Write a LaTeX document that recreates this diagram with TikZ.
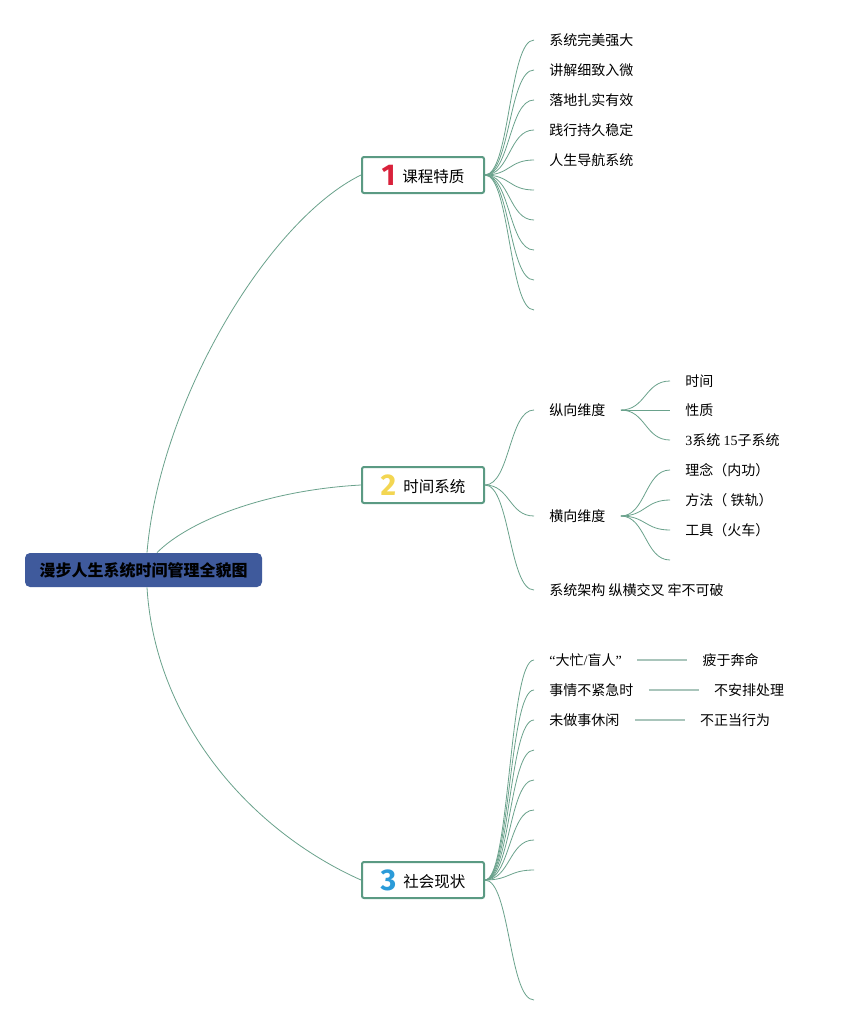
\documentclass[tikz,border=0pt]{standalone}
\usepackage{fontspec}
\setmainfont{Noto Sans CJK SC}
\newfontfamily\numfont{Fira Sans}
\newfontfamily\latinnum{Liberation Serif}
\usetikzlibrary{positioning}

\definecolor{rootblue}{HTML}{3F5A9C}
\definecolor{framegreen}{HTML}{5B9A83}
\definecolor{linegreen}{HTML}{6AA28C}
\definecolor{pairgrey}{HTML}{A9C5BB}
\definecolor{digitred}{HTML}{D9213B}
\definecolor{digityellow}{HTML}{F3D652}
\definecolor{digitblue}{HTML}{2B9BD9}

\newcommand{\topicnum}[2]{\raisebox{-3pt}{\numfont\bfseries\fontsize{30}{30}\selectfont\color{#1}#2}\hspace{7pt}}

\begin{document}
\begin{tikzpicture}[x=1pt, y=-1pt, thick]
        % Define block styles
        \tikzstyle{rootnode} = [rectangle, fill=rootblue, rounded corners=5pt, minimum width=237pt, minimum height=34pt, font=\fontsize{16}{18}\selectfont\bfseries, text centered]
        \tikzstyle{topicnode} = [rectangle, draw=framegreen, line width=2pt, fill=white, rounded corners=2pt, minimum width=122pt, minimum height=36pt, inner ysep=0pt, font=\fontsize{15.5}{18}\selectfont]
        \tikzstyle{leafnode} = [anchor=west, inner xsep=15pt, inner ysep=2pt, font=\fontsize{14}{16}\selectfont]
        \tikzstyle{line} = [draw=linegreen, line width=0.8pt]
        \tikzstyle{pairline} = [draw=pairgrey, line width=1.5pt]
        \tikzstyle{curveto} = [to path={.. controls +(25,0) and +(-25,0) .. (\tikztotarget)}]

        \fill[white] (0,0) rectangle (843,1025);

        % Define nodes
        \node [rootnode] (root) at (143.5,570) {漫步人生系统时间管理全貌图};
        \node [topicnode] (c1) at (423,175) {\topicnum{digitred}{1}课程特质};
        \node [topicnode] (c2) at (423,485) {\topicnum{digityellow}{2}时间系统};
        \node [topicnode] (c3) at (423,880) {\topicnum{digitblue}{3}社会现状};

        \node [leafnode] (q1) at (534,40) {系统完美强大};
        \node [leafnode] (q2) at (534,70) {讲解细致入微};
        \node [leafnode] (q3) at (534,100) {落地扎实有效};
        \node [leafnode] (q4) at (534,130) {践行持久稳定};
        \node [leafnode] (q5) at (534,160) {人生导航系统};
        \coordinate (q6) at (534,190);
        \coordinate (q7) at (534,220);
        \coordinate (q8) at (534,250);
        \coordinate (q9) at (534,280);
        \coordinate (q10) at (534,310);

        \node [leafnode] (vert) at (534,410) {纵向维度};
        \node [leafnode] (hori) at (534,516) {横向维度};
        \node [leafnode] (arch) at (534,590) {系统架构 纵横交叉 牢不可破};
        \node [leafnode] (v1) at (670,381) {时间};
        \node [leafnode] (v2) at (670,410) {性质};
        \node [leafnode] (v3) at (670,440) {{\latinnum 3}系统 {\latinnum 15}子系统};
        \node [leafnode] (h1) at (670,470) {理念（内功）};
        \node [leafnode] (h2) at (670,500) {方法（ 铁轨）};
        \node [leafnode] (h3) at (670,530) {工具（火车）};
        \coordinate (h4) at (670,560);

        \node [leafnode] (s1) at (534,660) {{\latinnum “}大忙{\latinnum /}盲人{\latinnum ”}};
        \node [leafnode, right=50pt of s1] (s1r) {疲于奔命};
        \node [leafnode] (s2) at (534,690) {事情不紧急时};
        \node [leafnode, right=50pt of s2] (s2r) {不安排处理};
        \node [leafnode] (s3) at (534,720) {未做事休闲};
        \node [leafnode, right=50pt of s3] (s3r) {不正当行为};
        \coordinate (s4) at (534,750);
        \coordinate (s5) at (534,780);
        \coordinate (s6) at (534,810);
        \coordinate (s7) at (534,840);
        \coordinate (s8) at (534,870);
        \coordinate (s9) at (534,1000);

        % Connect nodes with paths
        \draw[line] ([xshift=3.5pt]root.north) .. controls +(13,-153) and +(-92,45) .. (c1.west);
        \draw[line] ([xshift=13.5pt]root.north) .. controls +(33,-33) and +(-92,5) .. (c2.west);
        \draw[line] ([xshift=3.5pt]root.south) .. controls +(8,133) and +(-112,-50) .. (c3.west);

        \foreach \i in {1,...,5} \draw[line] (c1.east) to[curveto] (q\i.west);
        \foreach \i in {6,...,10} \draw[line] (c1.east) to[curveto] (q\i);

        \draw[line] (c2.east) to[curveto] (vert.west);
        \draw[line] (c2.east) to[curveto] (hori.west);
        \draw[line] (c2.east) to[curveto] (arch.west);
        \draw[line] (vert.east) to[curveto] (v1.west);
        \draw[line] (vert.east) to[curveto] (v2.west);
        \draw[line] (vert.east) to[curveto] (v3.west);
        \draw[line] (hori.east) to[curveto] (h1.west);
        \draw[line] (hori.east) to[curveto] (h2.west);
        \draw[line] (hori.east) to[curveto] (h3.west);
        \draw[line] (hori.east) to[curveto] (h4);

        \foreach \i in {1,...,3} \draw[line] (c3.east) to[curveto] (s\i.west);
        \foreach \i in {4,...,9} \draw[line] (c3.east) to[curveto] (s\i);
        \draw[pairline] (s1.east) -- (s1r.west);
        \draw[pairline] (s2.east) -- (s2r.west);
        \draw[pairline] (s3.east) -- (s3r.west);

    \end{tikzpicture}
\end{document}
